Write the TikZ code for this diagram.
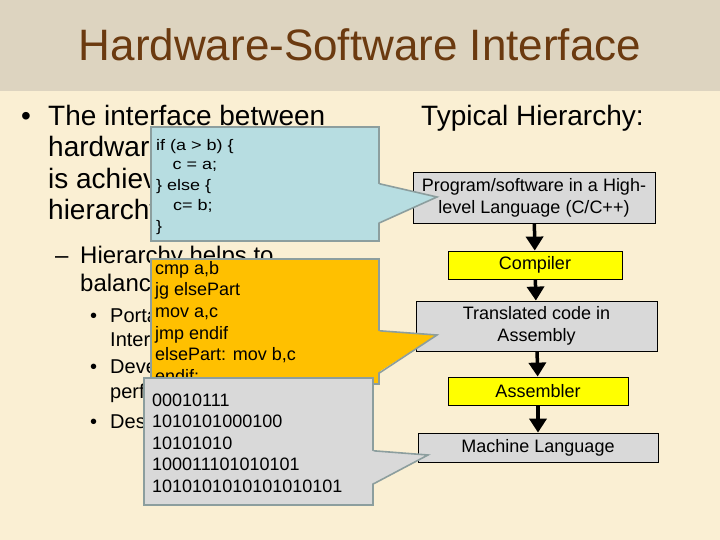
\documentclass[tikz,border=0pt]{standalone}
\usepackage{fontspec}
\setmainfont{Liberation Sans}
\usetikzlibrary{arrows.meta}
\definecolor{slidebg}{RGB}{250,239,211}
\definecolor{titleband}{RGB}{221,212,192}
\definecolor{titlebrown}{RGB}{107,58,16}
\definecolor{boxgray}{RGB}{217,217,217}
\definecolor{toolyellow}{RGB}{255,255,0}
\definecolor{codeblue}{RGB}{183,221,225}
\definecolor{codeorange}{RGB}{255,192,0}
\definecolor{calloutedge}{RGB}{140,158,158}
\newcommand\fsz[2]{\fontsize{#1}{#2}\selectfont}
\newcommand\tallcode[1]{\scalebox{1}[0.85]{#1}}

\begin{document}
\begin{tikzpicture}[x=1pt,y=-1pt,
	txt/.style={anchor=base west,inner sep=0pt},
	lvlone/.style={txt,font=\fsz{28}{33}},
	lvltwo/.style={txt,font=\fsz{24}{28}},
	lvlthree/.style={txt,font=\fsz{20}{24}},
	ccode/.style={txt,font=\fsz{18}{20}},
	level/.style={draw=black,line width=0.8pt,fill=boxgray,font=\fsz{18}{22},align=center,inner sep=0pt},
	tool/.style={level,fill=toolyellow},
	flow/.style={line width=3.5pt,-{Triangle[width=17pt,length=14pt]}},
	callout/.style={draw=calloutedge,line width=1.6pt,inner sep=0pt,anchor=north west},
	wedge/.style={draw=calloutedge,line width=1.6pt,line join=miter}]
	% slide background
	\useasboundingbox (0,0) rectangle (720,540);
	\fill[slidebg] (0,0) rectangle (720,540);
	\fill[titleband] (0,0) rectangle (720,91);
	\node (title) at (360,45) [font=\fsz{44}{50},text=titlebrown] {Hardware-Software Interface};

	% bullet text (partly hidden by the callouts)
	\node (b1) at (21,126) [lvlone] {•};
	\node (l1) at (48,126) [lvlone] {The interface between};
	\node (l2) at (48,157) [lvlone] {hardware};
	\node (l3) at (48,188.5) [lvlone] {is achieve};
	\node (l4) at (48,220) [lvlone] {hierarchy};
	\node (b2) at (55,263) [lvltwo] {–};
	\node (l5) at (80,263) [lvltwo] {Hierarchy helps to};
	\node (l6) at (80,291) [lvltwo] {balance};
	\node (b3) at (90,322) [lvlthree] {•};
	\node (l7) at (110,322) [lvlthree] {Portab};
	\node (l8) at (110,346) [lvlthree] {Intero};
	\node (b4) at (90,373) [lvlthree] {•};
	\node (l9) at (110,373) [lvlthree] {Devel};
	\node (l10) at (110,398) [lvlthree] {perfo};
	\node (b5) at (90,428) [lvlthree] {•};
	\node (l11) at (110,428) [lvlthree] {Desi};

	% typical hierarchy
	\node (head) at (421,126) [lvlone] {Typical Hierarchy:};
	\node (hll) at (534,197.5) [level,minimum width=242pt,minimum height=51pt] {Program/software in a High-\\level Language (C/C++)};
	\node (comp) at (535,265) [tool,minimum width=174pt,minimum height=28pt] {Compiler};
	\node (asmcode) at (536.5,326) [level,minimum width=241pt,minimum height=50pt] {Translated code in\\Assembly};
	\node (assembler) at (538,391) [tool,minimum width=180pt,minimum height=28pt] {Assembler};
	\node (mach) at (538,447.5) [level,minimum width=240pt,minimum height=29pt] {Machine Language};
	\draw [flow] (hll) -- (comp);
	\draw [flow] (comp) -- (asmcode);
	\draw [flow] (asmcode) -- (assembler);
	\draw [flow] (assembler) -- (mach);

	% callout: C source
	\node (cbox) at (150,126) [callout,fill=codeblue,minimum width=228pt,minimum height=114pt] {};
	\coordinate (ctip) at (437,197);
	\fill[codeblue] ([xshift=-2pt]cbox.east) -- (ctip) -- ([xshift=-2pt,yshift=-39pt]cbox.east) -- cycle;
	\draw[wedge] (cbox.east) -- (ctip) -- ([yshift=-39pt]cbox.east);
	\node (c1) at (156,151) [ccode] {\tallcode{if (a > b) \{}};
	\node (c2) at (172.5,170) [ccode] {\tallcode{c = a;}};
	\node (c3) at (156,191) [ccode] {\tallcode{\} else \{}};
	\node (c4) at (173,211) [ccode] {\tallcode{c= b;}};
	\node (c5) at (156,231) [ccode] {\tallcode{\}}};

	% callout: assembly
	\node (abox) at (150,258) [callout,fill=codeorange,minimum width=228pt,minimum height=125pt] {};
	\coordinate (atip) at (437,335);
	\fill[codeorange] ([xshift=-2pt,yshift=-9.5pt]abox.east) -- (atip) -- ([xshift=-2pt,yshift=-51.5pt]abox.east) -- cycle;
	\draw[wedge] ([yshift=-9.5pt]abox.east) -- (atip) -- ([yshift=-51.5pt]abox.east);
	\foreach \ln [count=\i] in {{cmp a,b},{jg elsePart},{mov a,c},{jmp endif},{elsePart: mov b,c},{endif:}}
		\node (a\i) at (155,{252.3+21.7*\i}) [txt,font=\fsz{18}{22}] {\ln};

	% callout: machine code
	\node (mbox) at (143,377) [callout,fill=boxgray,minimum width=229pt,minimum height=127pt] {};
	\coordinate (mtip) at (428,455);
	\fill[boxgray] ([xshift=-2pt,yshift=-9.5pt]mbox.east) -- (mtip) -- ([xshift=-2pt,yshift=-42.5pt]mbox.east) -- cycle;
	\draw[wedge] ([yshift=-9.5pt]mbox.east) -- (mtip) -- ([yshift=-42.5pt]mbox.east);
	\foreach \ln [count=\i] in {00010111,1010101000100,10101010,100011101010101,1010101010101010101}
		\node (m\i) at (152,{384.5+21.6*\i}) [txt,font=\fsz{18}{22}] {\ln};
\end{tikzpicture}
\end{document}
